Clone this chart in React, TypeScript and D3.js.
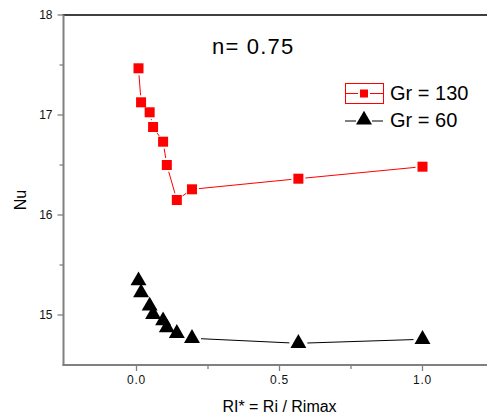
import React from "react";
import * as d3 from "d3";

const W = 487;
const H = 418;

const riValues = [0.007, 0.016, 0.046, 0.058, 0.093, 0.106, 0.141, 0.194, 0.566, 1.0];
const nuGr130 = [17.467, 17.127, 17.027, 16.88, 16.733, 16.5, 16.15, 16.257, 16.363, 16.483];
const nuGr60 = [15.343, 15.223, 15.09, 15.007, 14.943, 14.873, 14.817, 14.767, 14.717, 14.757];
const seriesNames = ["Gr = 130", "Gr = 60"];
const xMajorTicks = [0, 0.5, 1.0];
const xMinorTicks = [0.25, 0.75];
const yMajorTicks = [15, 16, 17, 18];
const yMinorTicks = [15.5, 16.5, 17.5];
const titleText = "n= 0.75";
const xTitle = "RI* = Ri / Rimax";
const yTitle = "Nu";

const FONT = "Liberation Sans, Arial, sans-serif";

function gapSegments(pts: [number, number][], gap: number) {
  const segs: [number, number, number, number][] = [];
  for (let i = 0; i < pts.length - 1; i++) {
    const [x1, y1] = pts[i];
    const [x2, y2] = pts[i + 1];
    const dx = x2 - x1, dy = y2 - y1;
    const len = Math.hypot(dx, dy);
    if (len <= 2 * gap) continue;
    const ux = dx / len, uy = dy / len;
    segs.push([x1 + ux * gap, y1 + uy * gap, x2 - ux * gap, y2 - uy * gap]);
  }
  return segs;
}

export default function App() {
  const x = d3.scaleLinear().domain([-0.25, 1.25]).range([65, 494]);
  const y = d3.scaleLinear().domain([14.5, 18]).range([365, 15]);
  const axisX = 63.5;
  const axisY = 365;

  const redPts = riValues.map((v, i) => [x(v), y(nuGr130[i])] as [number, number]);
  const blkPts = riValues.map((v, i) => [x(v), y(nuGr60[i])] as [number, number]);
  const tri = d3.symbol().type(d3.symbolTriangle).size(110)() as string;

  return (
    <div style={{ position: "absolute", left: 0, top: 0 }}>
      <svg width={W} height={H} style={{ display: "block", background: "#fff" }}>
        {/* top axis */}
        <line x1={axisX - 1} x2={W} y1={15} y2={15} stroke="#000" strokeWidth={1.6} />
        {/* bottom axis */}
        <line x1={axisX - 1} x2={W} y1={axisY} y2={axisY} stroke="#808080" strokeWidth={2} />
        {/* left axis */}
        <line x1={axisX} x2={axisX} y1={15} y2={axisY + 1} stroke="#808080" strokeWidth={2} />

        {xMajorTicks.map((t) => (
          <g key={"xm" + t}>
            <line x1={x(t)} x2={x(t)} y1={axisY} y2={axisY + 6} stroke="#808080" strokeWidth={1.3} />
            <text x={x(t)} y={axisY + 19} textAnchor="middle" fontFamily={FONT} fontSize={12} letterSpacing={0.8} fill="#111">
              {d3.format(".1f")(t)}
            </text>
          </g>
        ))}
        {xMinorTicks.map((t) => (
          <line key={"xn" + t} x1={x(t)} x2={x(t)} y1={axisY} y2={axisY + 4} stroke="#808080" strokeWidth={1.3} />
        ))}
        {yMajorTicks.map((t) => (
          <g key={"ym" + t}>
            <line x1={axisX - 6} x2={axisX} y1={y(t)} y2={y(t)} stroke="#808080" strokeWidth={1.3} />
            <text x={axisX - 11} y={y(t) + 4} textAnchor="end" fontFamily={FONT} fontSize={12} fill="#111">
              {d3.format("d")(t)}
            </text>
          </g>
        ))}
        {yMinorTicks.map((t) => (
          <line key={"yn" + t} x1={axisX - 4} x2={axisX} y1={y(t)} y2={y(t)} stroke="#808080" strokeWidth={1.3} />
        ))}

        {/* axis titles */}
        <text x={x(0.5)} y={412} textAnchor="middle" fontFamily={FONT} fontSize={16} fill="#000">{xTitle}</text>
        <text transform={`translate(26,200) rotate(-90)`} textAnchor="middle" fontFamily={FONT} fontSize={16} fill="#000">{yTitle}</text>

        {/* chart title */}
        <text x={212} y={54} fontFamily={FONT} fontSize={22} letterSpacing={1.2} fill="#000">{titleText}</text>

        {/* lines */}
        {gapSegments(redPts, 7).map((s, i) => (
          <line key={"rl" + i} x1={s[0]} y1={s[1]} x2={s[2]} y2={s[3]} stroke="#ff0000" strokeWidth={1} />
        ))}
        {gapSegments(blkPts, 9).map((s, i) => (
          <line key={"bl" + i} x1={s[0]} y1={s[1]} x2={s[2]} y2={s[3]} stroke="#000" strokeWidth={1} />
        ))}

        {/* markers */}
        {redPts.map((p, i) => (
          <rect key={"rs" + i} x={p[0] - 5} y={p[1] - 5} width={10} height={10} fill="#ff0000" />
        ))}
        {blkPts.map((p, i) => (
          <path key={"bt" + i} d={tri} transform={`translate(${p[0]},${p[1]})`} fill="#000" />
        ))}

        {/* legend */}
        <rect x={345.5} y={83.5} width={38} height={20} fill="none" stroke="#ff0000" strokeWidth={1} />
        <line x1={346} x2={358} y1={93.5} y2={93.5} stroke="#ff0000" strokeWidth={1} />
        <line x1={370} x2={383} y1={93.5} y2={93.5} stroke="#ff0000" strokeWidth={1} />
        <rect x={360} y={89.5} width={8} height={8} fill="#ff0000" />
        <text x={390} y={100} fontFamily={FONT} fontSize={20} fill="#000">{seriesNames[0]}</text>

        <line x1={345} x2={356} y1={121} y2={121} stroke="#000" strokeWidth={1} />
        <line x1={372} x2={383} y1={121} y2={121} stroke="#000" strokeWidth={1} />
        <path d={tri} transform={`translate(364,120)`} fill="#000" />
        <text x={390} y={127} fontFamily={FONT} fontSize={20} fill="#000">{seriesNames[1]}</text>
      </svg>
    </div>
  );
}
